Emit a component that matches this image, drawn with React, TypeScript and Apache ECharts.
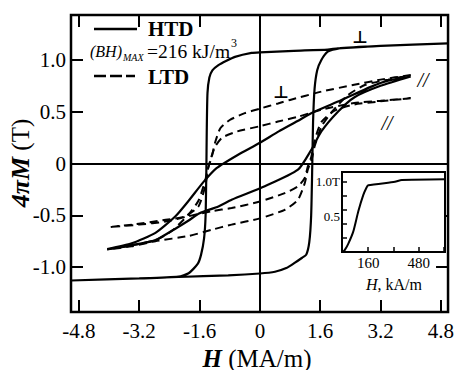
import React, { useEffect, useRef } from 'react';
import * as echarts from 'echarts';

const FONT = '"Liberation Serif", "Times New Roman", serif';
const SYMFONT = '"DejaVu Sans", "Liberation Sans", sans-serif';

// Main axes
const xTickValues = [-4.8, -3.2, -1.6, 0, 1.6, 3.2, 4.8];
const yTickValues = [-1.0, -0.5, 0, 0.5, 1.0];

// Inset axes
const insetXTicks = [160, 320, 480, 640];
const insetXLabels = [160, 480];
const insetYTicks = [0.2, 0.4, 0.6, 0.8, 1.0];
const insetYLabels = [0.5, 1.0];

// HTD, perpendicular (solid, square loop)
const htdPerpDesc: number[][] = [
  [4.99, 1.16], [3.2, 1.135], [2.07, 1.112], [1.8, 1.1], [0.9, 1.088], [0, 1.074], [-0.22, 1.068],
  [-0.66, 1.03], [-0.9, 0.99], [-1.1, 0.95], [-1.26, 0.9], [-1.34, 0.83], [-1.39, 0.68], [-1.41, 0.3],
  [-1.42, -0.06], [-1.44, -0.5], [-1.48, -0.72], [-1.56, -0.88], [-1.65, -0.97], [-1.89, -1.06],
  [-2.16, -1.093], [-3.2, -1.11], [-5.01, -1.13],
];
const htdPerpAsc: number[][] = [
  [-5.01, -1.13], [-3.2, -1.11], [-2.16, -1.096], [-0.84, -1.08], [0, -1.062], [0.4, -1.045],
  [0.7, -1.01], [0.92, -0.96], [1.12, -0.91], [1.23, -0.88], [1.31, -0.76], [1.36, -0.5], [1.39, 0],
  [1.41, 0.4], [1.45, 0.72], [1.52, 0.9], [1.63, 1.0], [1.8, 1.08], [2.07, 1.11], [3.2, 1.135], [4.99, 1.16],
];

// HTD, parallel (solid, sheared loop)
const htdParDesc: number[][] = [
  [4.0, 0.84], [3.4, 0.8], [2.94, 0.74], [2.15, 0.61], [1.36, 0.486], [1.0, 0.41], [0.5, 0.31], [0, 0.2],
  [-0.6, 0.08], [-1.15, -0.045], [-1.5, -0.18], [-1.89, -0.36], [-2.24, -0.51], [-2.77, -0.67],
  [-3.4, -0.77], [-4.05, -0.826],
];
const htdParAsc: number[][] = [
  [-4.05, -0.826], [-3.4, -0.79], [-2.77, -0.74], [-2.2, -0.62], [-1.89, -0.55], [-1.6, -0.48],
  [-1.1, -0.415], [-0.75, -0.35], [0.13, -0.22], [1.01, -0.06], [1.36, 0.13], [1.63, 0.31], [2.07, 0.5],
  [2.51, 0.64], [3.2, 0.75], [4.0, 0.84],
];

// LTD, perpendicular (dashed)
const ltdPerpDesc: number[][] = [
  [4.0, 0.855], [3.2, 0.81], [2.5, 0.76], [1.63, 0.694], [0.8, 0.614], [0.48, 0.58], [0, 0.53],
  [-0.4, 0.486], [-0.8, 0.42], [-1.05, 0.34], [-1.19, 0.2], [-1.28, 0.06], [-1.38, -0.05],
  [-1.45, -0.164], [-1.63, -0.36], [-1.89, -0.49], [-2.33, -0.65], [-2.77, -0.74], [-3.4, -0.79],
  [-4.05, -0.83],
];
const ltdPerpAsc: number[][] = [
  [-4.05, -0.83], [-3.4, -0.8], [-2.77, -0.75], [-1.89, -0.7], [-1.28, -0.64], [-0.75, -0.59],
  [0, -0.53], [0.66, -0.447], [1.01, -0.35], [1.19, -0.19], [1.27, -0.06], [1.38, 0.05], [1.45, 0.164],
  [1.63, 0.356], [1.89, 0.49], [2.33, 0.66], [2.8, 0.76], [3.4, 0.81], [4.0, 0.855],
];

// LTD, parallel (dashed)
const ltdParDesc: number[][] = [
  [4.0, 0.63], [3.2, 0.605], [2.5, 0.585], [1.63, 0.52], [1.0, 0.45], [0.48, 0.405], [0, 0.36],
  [-0.6, 0.31], [-1.0, 0.25], [-1.19, 0.16], [-1.3, 0.05], [-1.38, -0.06], [-1.45, -0.22],
  [-1.63, -0.415], [-1.98, -0.51], [-2.5, -0.544], [-3.39, -0.59], [-4.0, -0.614],
];
const ltdParAsc: number[][] = [
  [-4.0, -0.614], [-3.2, -0.59], [-2.5, -0.56], [-1.9, -0.51], [-1.28, -0.46], [-0.75, -0.43],
  [0, -0.367], [0.66, -0.286], [1.01, -0.22], [1.19, -0.14], [1.27, -0.03], [1.36, 0.06], [1.45, 0.22],
  [1.63, 0.4], [1.98, 0.51], [2.5, 0.57], [3.2, 0.6], [4.0, 0.63],
];

// Inset: initial magnetization curve
const insetH = [0, 13, 35, 66, 98, 129, 150, 161, 329, 372, 645];
const insetM = [0, 0.03, 0.12, 0.29, 0.58, 0.81, 0.92, 0.95, 1.0, 1.025, 1.035];

const fmtMain = (v: number) => (Math.abs(v) < 1e-9 ? '0' : v.toFixed(1));

function buildOption(): any {
  const solid = { color: '#000', width: 2.2, type: 'solid' };
  const dashed = { color: '#000', width: 2, type: [8, 5] };
  const lineSeries = (name: string, data: number[][], style: any, extra: any = {}) => ({
    name,
    type: 'line',
    xAxisIndex: 0,
    yAxisIndex: 0,
    data,
    showSymbol: false,
    symbol: 'none',
    smooth: 0.2,
    lineStyle: style,
    silent: true,
    ...extra,
  });
  const mainTick = (vals: number[]) => ({
    show: true,
    inside: true,
    length: 12,
    lineStyle: { color: '#000', width: 2 },
    customValues: vals,
  });
  const insetTick = (vals: number[]) => ({
    show: true,
    inside: true,
    length: 5,
    lineStyle: { color: '#000', width: 1.5 },
    customValues: vals,
  });
  const noLine = { show: false, onZero: false };

  return {
    animation: false,
    backgroundColor: '#fff',
    grid: [
      { left: 71, top: 15, width: 379, height: 297, show: true, borderColor: '#000', borderWidth: 2.5, backgroundColor: 'transparent' },
      { left: 342, top: 172, width: 103, height: 80, show: true, borderColor: '#000', borderWidth: 2, backgroundColor: '#fff', z: 3 },
    ],
    xAxis: [
      {
        type: 'value', gridIndex: 0, position: 'bottom', min: -5.01, max: 4.99,
        axisLine: noLine, splitLine: { show: false },
        axisTick: mainTick(xTickValues),
        axisLabel: { customValues: xTickValues, formatter: fmtMain, color: '#000', fontFamily: FONT, fontSize: 21, margin: 8 },
      },
      {
        type: 'value', gridIndex: 0, position: 'top', min: -5.01, max: 4.99,
        axisLine: noLine, splitLine: { show: false },
        axisTick: mainTick(xTickValues), axisLabel: { show: false },
      },
      {
        type: 'value', gridIndex: 1, position: 'bottom', min: -5, max: 645, z: 4,
        axisLine: noLine, splitLine: { show: false },
        axisTick: insetTick(insetXTicks),
        axisLabel: { customValues: insetXLabels, color: '#000', fontFamily: FONT, fontSize: 15, margin: 3 },
      },
    ],
    yAxis: [
      {
        type: 'value', gridIndex: 0, position: 'left', min: -1.434, max: 1.434,
        axisLine: noLine, splitLine: { show: false },
        axisTick: mainTick(yTickValues),
        axisLabel: { customValues: yTickValues, formatter: fmtMain, color: '#000', fontFamily: FONT, fontSize: 21, margin: 5 },
      },
      {
        type: 'value', gridIndex: 0, position: 'right', min: -1.434, max: 1.434,
        axisLine: noLine, splitLine: { show: false },
        axisTick: mainTick(yTickValues), axisLabel: { show: false },
      },
      {
        type: 'value', gridIndex: 1, position: 'left', min: 0, max: 1.14, z: 4,
        axisLine: noLine, splitLine: { show: false },
        axisTick: insetTick(insetYTicks),
        axisLabel: {
          customValues: insetYLabels, color: '#000', fontFamily: FONT, fontSize: 13, margin: 2,
          formatter: (v: number) => (v >= 0.99 ? '1.0T' : v.toFixed(1)),
        },
      },
    ],
    series: [
      lineSeries('HTD ⊥', htdPerpDesc.concat(htdPerpAsc), solid, {
        markLine: {
          silent: true,
          symbol: ['none', 'none'],
          label: { show: false },
          lineStyle: { color: '#000', width: 2, type: 'solid' },
          data: [{ xAxis: 0 }, { yAxis: 0 }],
        },
      }),
      lineSeries('HTD //', htdParDesc.concat(htdParAsc), solid),
      lineSeries('LTD ⊥', ltdPerpDesc.concat(ltdPerpAsc), dashed),
      lineSeries('LTD //', ltdParDesc.concat(ltdParAsc), dashed),
      {
        name: 'inset',
        type: 'line',
        xAxisIndex: 2,
        yAxisIndex: 2,
        z: 5,
        data: insetH.map((h, i) => [h, insetM[i]]),
        showSymbol: false,
        symbol: 'none',
        smooth: 0.2,
        lineStyle: { color: '#000', width: 2 },
        silent: true,
      },
    ],
    graphic: [
      { type: 'line', shape: { x1: 94, y1: 29, x2: 137, y2: 29 }, style: { stroke: '#000', lineWidth: 2.5 } },
      { type: 'text', x: 148, y: 29, style: { text: 'HTD', fill: '#000', font: `bold 21px ${FONT}`, lineHeight: 16, textAlign: 'left', textVerticalAlign: 'middle' } },
      { type: 'text', x: 90, y: 51, style: { text: '(BH)', fill: '#000', font: `italic 16px ${FONT}`, lineHeight: 14, textAlign: 'left', textVerticalAlign: 'middle' } },
      { type: 'text', x: 123, y: 57, style: { text: 'MAX', fill: '#000', font: `italic 10px ${FONT}`, lineHeight: 9, textAlign: 'left', textVerticalAlign: 'middle' } },
      { type: 'text', x: 147, y: 51.5, style: { text: '=216 kJ/m', fill: '#000', font: `19.5px ${FONT}`, lineHeight: 15, textAlign: 'left', textVerticalAlign: 'middle' } },
      { type: 'text', x: 231, y: 43, style: { text: '3', fill: '#000', font: `12px ${FONT}`, lineHeight: 9, textAlign: 'left', textVerticalAlign: 'middle' } },
      { type: 'line', shape: { x1: 94, y1: 76, x2: 135, y2: 76 }, style: { stroke: '#000', lineWidth: 2.5, lineDash: [12, 4] } },
      { type: 'text', x: 148, y: 77, style: { text: 'LTD', fill: '#000', font: `bold 21px ${FONT}`, lineHeight: 16, textAlign: 'left', textVerticalAlign: 'middle' } },
      { type: 'text', x: 360, y: 37, style: { text: '⊥', fill: '#000', font: `bold 17px ${SYMFONT}`, textAlign: 'center', textVerticalAlign: 'middle' } },
      { type: 'text', x: 281, y: 92, style: { text: '⊥', fill: '#000', font: `bold 17px ${SYMFONT}`, textAlign: 'center', textVerticalAlign: 'middle' } },
      { type: 'text', x: 423, y: 80, style: { text: '//', fill: '#000', font: `italic 20px ${FONT}`, textAlign: 'center', textVerticalAlign: 'middle' } },
      { type: 'text', x: 387, y: 123, style: { text: '//', fill: '#000', font: `italic 20px ${FONT}`, textAlign: 'center', textVerticalAlign: 'middle' } },
      {
        type: 'text', x: 394, y: 284, z: 10,
        style: {
          text: '{i|H}, kA/m', fill: '#000', font: `16px ${FONT}`, textAlign: 'center', textVerticalAlign: 'middle',
          rich: { i: { fill: '#000', fontFamily: FONT, fontSize: 16, fontStyle: 'italic' } },
        },
      },
      {
        type: 'text', x: 257, y: 358,
        style: {
          text: '{b|H} (MA/m)', fill: '#000', font: `25px ${FONT}`, textAlign: 'center', textVerticalAlign: 'middle',
          rich: { b: { fill: '#000', fontFamily: FONT, fontSize: 25, fontStyle: 'italic', fontWeight: 'bold' } },
        },
      },
      {
        type: 'text', x: 20, y: 163, rotation: Math.PI / 2,
        style: {
          text: '{b|4πM} (T)', fill: '#000', font: `25px ${FONT}`, textAlign: 'center', textVerticalAlign: 'middle',
          rich: { b: { fill: '#000', fontFamily: FONT, fontSize: 26, fontStyle: 'italic', fontWeight: 'bold' } },
        },
      },
    ],
  };
}

export default function App() {
  const ref = useRef<HTMLDivElement>(null);
  useEffect(() => {
    if (!ref.current) return;
    const chart = echarts.init(ref.current, null, { renderer: 'svg' });
    chart.setOption(buildOption());
    return () => chart.dispose();
  }, []);
  return (
    <div
      ref={ref}
      style={{ position: 'fixed', left: 0, top: 0, width: 457, height: 370, background: '#fff' }}
    />
  );
}
